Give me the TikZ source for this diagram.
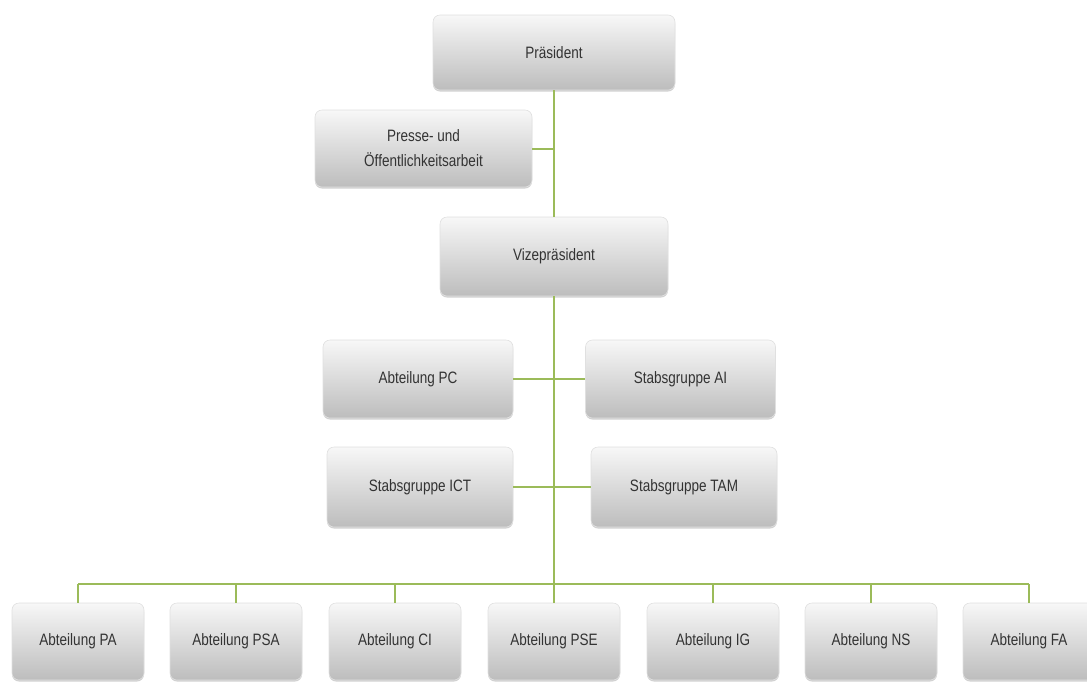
\documentclass[tikz,border=0pt]{standalone}
\usepackage{fontspec}
\setmainfont[FakeStretch=0.82]{Liberation Sans}
\usetikzlibrary{shadows}
\definecolor{linegreen}{HTML}{9BBB59}
\definecolor{txtgray}{HTML}{333333}
\tikzset{
  orgbox/.style={rectangle, rounded corners=7pt, draw=black!12, line width=0.6pt,
    top color=white!97!black, bottom color=black!26, text=txtgray,
    font=\fontsize{16.5}{25}\selectfont, align=center, inner sep=0pt,
    drop shadow={shadow xshift=0pt, shadow yshift=-1.5pt, opacity=0.3, fill=black!60}},
  link/.style={draw=linegreen, line width=2pt}
}
\begin{document}
\begin{tikzpicture}[x=1pt,y=-1pt]
\useasboundingbox (0,0) rectangle (1087,681);
\clip (0,0) rectangle (1087,681);
\coordinate (bus) at (0,584);
\node[orgbox, minimum width=242pt, minimum height=75pt] (P) at (554,52.5) {Präsident};
\node[orgbox, minimum width=217pt, minimum height=77pt] (PR) at (423.5,148.5) {Presse- und\\Öffentlichkeitsarbeit};
\node[orgbox, minimum width=228pt, minimum height=79pt] (V) at (554,256.5) {Vizepräsident};
\node[orgbox, minimum width=190pt, minimum height=78pt] (PC) at (418,379) {Abteilung PC};
\node[orgbox, minimum width=190pt, minimum height=78pt] (AI) at (680.5,379) {Stabsgruppe AI};
\node[orgbox, minimum width=186pt, minimum height=80pt] (ICT) at (420,487) {Stabsgruppe ICT};
\node[orgbox, minimum width=186pt, minimum height=80pt] (TAM) at (684,487) {Stabsgruppe TAM};
\node[orgbox, minimum width=132pt, minimum height=77pt] (B1) at (78,641.5) {Abteilung PA};
\node[orgbox, minimum width=132pt, minimum height=77pt] (B2) at (236,641.5) {Abteilung PSA};
\node[orgbox, minimum width=132pt, minimum height=77pt] (B3) at (395,641.5) {Abteilung CI};
\node[orgbox, minimum width=132pt, minimum height=77pt] (B4) at (554,641.5) {Abteilung PSE};
\node[orgbox, minimum width=132pt, minimum height=77pt] (B5) at (713,641.5) {Abteilung IG};
\node[orgbox, minimum width=132pt, minimum height=77pt] (B6) at (871,641.5) {Abteilung NS};
\node[orgbox, minimum width=132pt, minimum height=77pt] (B7) at (1029,641.5) {Abteilung FA};
\draw[link] (P.south) -- (V.north);
\draw[link] (PR.east) -- (PR.east -| P.south);
\draw[link] (V.south) -- (V.south |- bus);
\draw[link] (PC.east) -- (PC.east -| V.south);
\draw[link] (AI.west) -- (AI.west -| V.south);
\draw[link] (ICT.east) -- (ICT.east -| V.south);
\draw[link] (TAM.west) -- (TAM.west -| V.south);
\draw[link] (B1.north |- bus) -- (B7.north |- bus);
\foreach \b in {B1,B2,B3,B4,B5,B6,B7} \draw[link] (\b.north) -- (\b.north |- bus);
\end{tikzpicture}
\end{document}
